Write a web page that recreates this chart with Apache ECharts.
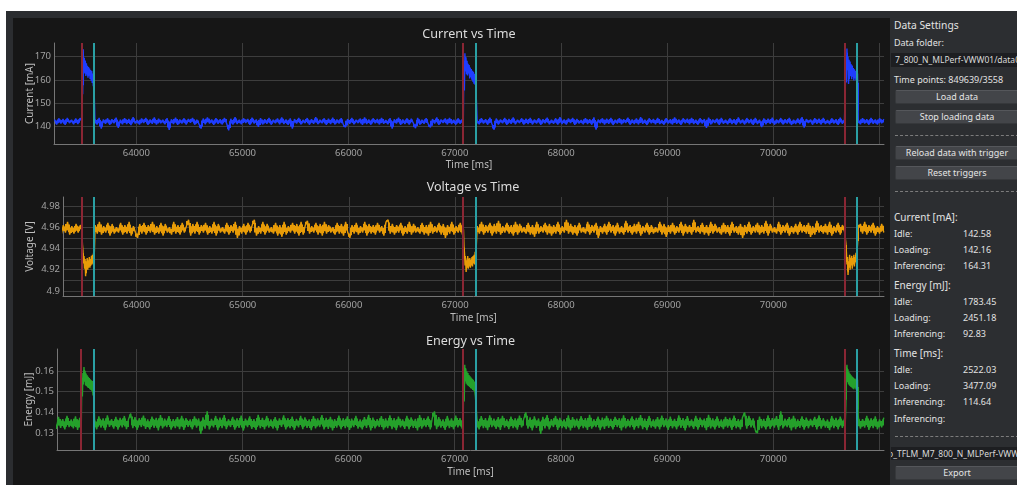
<!DOCTYPE html>
<html>
<head>
<meta charset="utf-8">
<script src="https://cdn.jsdelivr.net/npm/echarts@6/dist/echarts.min.js"></script>
<style>
  html, body { margin: 0; padding: 0; width: 1017px; height: 485px; overflow: hidden; background: #ffffff; font-family: "Noto Sans", sans-serif; }
  #frame { position: absolute; left: 6px; top: 11px; width: 1011px; height: 474px; background: #2b2d30; }
  #plotbg { position: absolute; left: 13px; top: 18px; width: 877px; height: 467px; background: #161616; }
  #chart { position: absolute; left: 0; top: 0; width: 890px; height: 485px; }
  #panel { position: absolute; left: 890px; top: 11px; width: 127px; height: 474px; background: #2c2e31; }
  .t { position: absolute; left: 894px; white-space: nowrap; color: #e2e2e2; font-size: 9px; line-height: 12px; }
  .h { font-size: 10px; line-height: 14px; }
  .big { font-size: 10.3px; line-height: 14px; }
  .v { left: 963px; }
  .btn { position: absolute; left: 895px; width: 124px; height: 14px; box-sizing: border-box; background: #434549; border: 1px solid #36383b; border-top-color: #55575b; border-radius: 2px; color: #e4e4e4; font-size: 9px; line-height: 12px; text-align: center; white-space: nowrap; }
  .inp { position: absolute; left: 891px; width: 130px; height: 14px; background: #1d1e21; color: #dadada; font-size: 8.5px; line-height: 14px; overflow: hidden; white-space: nowrap; }
  .inp span { position: relative; }
  .sep { position: absolute; left: 895px; width: 124px; height: 0; border-top: 1px dashed #7c7c7c; }
</style>
</head>
<body>
<div id="frame"></div>
<div id="plotbg"></div>
<div id="chart"></div>
<div id="panel"></div>

<div class="t big" style="top:18px">Data Settings</div>
<div class="t" style="top:37px">Data folder:</div>
<div class="inp" style="top:53px"><span style="left:4px">7_800_N_MLPerf-VWW01/data0.txt</span></div>
<div class="t" style="top:74px">Time points: 849639/3558</div>
<div class="btn" style="top:90px">Load data</div>
<div class="btn" style="top:110px">Stop loading data</div>
<div class="sep" style="top:135px"></div>
<div class="btn" style="top:146px">Reload data with trigger</div>
<div class="btn" style="top:166px">Reset triggers</div>
<div class="sep" style="top:191px"></div>

<div class="t h" style="top:210px">Current [mA]:</div>
<div class="t" style="top:228px">Idle:</div><div class="t v" style="top:228px">142.58</div>
<div class="t" style="top:244px">Loading:</div><div class="t v" style="top:244px">142.16</div>
<div class="t" style="top:260px">Inferencing:</div><div class="t v" style="top:260px">164.31</div>

<div class="t h" style="top:278px">Energy [mJ]:</div>
<div class="t" style="top:296px">Idle:</div><div class="t v" style="top:296px">1783.45</div>
<div class="t" style="top:312px">Loading:</div><div class="t v" style="top:312px">2451.18</div>
<div class="t" style="top:328px">Inferencing:</div><div class="t v" style="top:328px">92.83</div>

<div class="t h" style="top:346px">Time [ms]:</div>
<div class="t" style="top:364px">Idle:</div><div class="t v" style="top:364px">2522.03</div>
<div class="t" style="top:380px">Loading:</div><div class="t v" style="top:380px">3477.09</div>
<div class="t" style="top:396px">Inferencing:</div><div class="t v" style="top:396px">114.64</div>
<div class="t" style="top:413px">Inferencing:</div>
<div class="sep" style="top:436px"></div>
<div class="inp" style="top:447px;height:13px;line-height:13px"><span style="left:-3px">o_TFLM_M7_800_N_MLPerf-VWW01</span></div>
<div class="btn" style="top:466px">Export</div>

<script>
// ---- time base of the capture ----
const idleStart = [63230, 63610, 67210, 70800];   // first sample of each idle/loading stretch [ms]
const idleStep = 20;                              // sample spacing in idle stretches [ms]
const triggerStart = [63485, 67080, 70678];       // inference start triggers [ms]
const triggerEnd = [63600, 67197, 70791];         // inference end triggers [ms]
const burstStep = 5;                              // sample spacing inside inference bursts [ms]

// ---- axis ticks ----
const timeTicks = [64000, 65000, 66000, 67000, 68000, 69000, 70000, 71000];
const timeLabels = [64000, 65000, 66000, 67000, 68000, 69000, 70000];
const currentTicks = [140, 150, 160, 170];
const voltageTicks = [4.9, 4.92, 4.94, 4.96, 4.98];
const voltageGrid = [4.9, 4.91, 4.92, 4.93, 4.94, 4.95, 4.96, 4.97, 4.98];
const energyTicks = [0.13, 0.14, 0.15, 0.16];

// ---- current [mA] ----
const currentIdle = [
  [142.9, 140.8, 143.4, 141.2, 143.1, 140.6, 143.6, 141.4, 142.8, 140.9, 143.3, 141.0, 143.5],
  [143.2, 140.7, 143.6, 139.0, 142.9, 141.1, 143.4, 140.6, 143.0, 141.3,
   143.7, 139.3, 142.8, 140.9, 143.5, 141.0, 143.1, 140.5, 143.9, 141.2,
   142.7, 140.8, 143.3, 141.4, 143.6, 140.6, 142.9, 141.1, 143.8, 140.7,
   143.2, 141.3, 142.8, 140.9, 143.5, 138.4, 143.0, 141.0, 143.7, 140.6,
   142.9, 141.2, 143.4, 140.8, 143.1, 141.5, 143.6, 140.7, 142.8, 141.0,
   139.0, 143.3, 140.9, 143.8, 141.2, 142.9, 140.6, 143.5, 141.1, 143.0,
   140.8, 143.6, 141.3, 138.2, 143.2, 140.7, 143.9, 141.0, 142.8, 140.9,
   143.4, 141.4, 143.1, 140.6, 143.7, 141.2, 142.9, 139.8, 143.5, 140.8,
   143.0, 141.1, 143.6, 140.7, 142.8, 141.3, 143.3, 140.9, 143.8, 141.0,
   142.9, 140.6, 143.4, 139.0, 143.1, 141.2, 143.6, 140.8, 142.7, 141.4,
   143.5, 140.7, 143.0, 141.1, 143.9, 140.9, 142.8, 141.3, 143.4, 140.6,
   143.2, 141.0, 143.7, 140.8, 142.9, 141.2, 143.5, 140.7, 139.6, 143.1,
   141.1, 143.6, 140.9, 142.8, 141.4, 143.3, 140.6, 143.8, 141.0, 142.9,
   140.7, 143.4, 141.3, 143.1, 140.8, 143.6, 141.1, 142.7, 140.9, 143.5,
   139.0, 143.0, 141.2, 143.7, 140.6, 142.9, 141.0, 143.4, 140.8, 143.2,
   141.3, 139.2, 143.6, 140.7, 142.8, 141.1, 143.5, 140.9, 139.5, 143.1,
   141.2, 143.8, 140.6, 142.9, 141.4, 143.3, 140.8, 143.6, 141.0, 142.8,
   140.7, 143.4, 141.1, 143.0],
  [142.6, 140.9, 143.5, 141.2, 143.0, 140.7, 143.7, 141.0, 138.5, 143.3,
   140.8, 142.9, 141.3, 143.6, 140.6, 143.1, 141.1, 143.8, 140.9, 142.8,
   141.4, 143.4, 140.7, 143.2, 141.0, 143.6, 140.8, 142.9, 141.2, 143.5,
   140.6, 143.0, 141.3, 143.7, 140.9, 142.8, 141.1, 143.4, 140.7, 143.9,
   141.0, 142.9, 140.8, 143.3, 141.4, 143.6, 140.6, 143.1, 141.2, 142.7,
   140.9, 143.5, 141.0, 143.0, 140.7, 143.8, 138.5, 142.9, 141.3, 143.4,
   140.8, 143.2, 141.1, 143.6, 140.6, 142.8, 141.2, 143.5, 140.9, 143.0,
   141.4, 143.7, 140.7, 142.9, 141.0, 143.3, 140.8, 143.9, 141.1, 142.8,
   140.6, 143.4, 141.3, 143.1, 140.9, 143.6, 141.0, 142.7, 140.7, 143.5,
   141.2, 143.0, 140.8, 143.8, 141.1, 142.9, 140.6, 143.4, 141.3, 143.2,
   140.9, 143.6, 141.0, 142.8, 140.7, 143.5, 141.2, 143.1, 139.3, 143.7,
   140.8, 142.9, 141.4, 143.3, 140.6, 143.6, 141.1, 142.8, 140.9, 143.4,
   141.0, 143.0, 140.7, 143.8, 141.2, 142.9, 140.8, 143.5, 141.3, 143.1,
   140.6, 143.6, 141.0, 142.8, 139.6, 143.4, 140.9, 143.2, 141.1, 143.7,
   140.7, 142.9, 141.3, 143.5, 140.8, 143.0, 141.2, 143.6, 140.6, 142.8,
   141.0, 143.3, 140.9, 143.9, 139.4, 143.1, 141.4, 142.9, 140.7, 143.5,
   141.1, 143.2, 140.8, 143.6, 141.0, 142.7, 140.9, 143.4, 141.2, 143.0,
   140.6, 143.7, 141.1, 142.9],
  [142.8, 140.9, 143.5, 141.2, 143.0, 140.7, 143.6, 141.1, 142.9, 140.8, 143.4, 141.3, 143.1]
];
const currentBurst = [
  [142.3, 166.5, 153.8, 173.2, 164.0, 169.5, 162.8, 168.4, 161.7, 167.2, 162.3, 166.1,
   160.9, 165.6, 161.8, 164.9, 160.4, 164.3, 159.6, 163.8, 158.7, 162.4, 157.3, 161.0],
  [142.1, 165.2, 155.4, 171.5, 163.6, 169.8, 162.4, 168.3, 161.9, 167.0, 162.8, 166.4,
   160.6, 165.3, 161.2, 164.7, 160.1, 163.9, 159.2, 163.5, 158.4, 162.6, 157.9, 161.4],
  [142.4, 166.8, 158.9, 173.6, 164.2, 170.1, 158.2, 168.7, 162.5, 167.9, 161.6, 166.8,
   160.3, 166.2, 161.4, 165.1, 159.8, 164.6, 160.7, 163.9, 159.9, 163.2, 160.5, 162.8]
];

// ---- voltage [V] ----
const voltageIdle = [
  [4.961, 4.954, 4.964, 4.953, 4.962, 4.955, 4.965, 4.953, 4.961, 4.954, 4.963, 4.955, 4.962],
  [4.962, 4.954, 4.965, 4.953, 4.961, 4.955, 4.964, 4.952, 4.963, 4.954,
   4.960, 4.955, 4.964, 4.953, 4.962, 4.954, 4.965, 4.952, 4.961, 4.955,
   4.950, 4.963, 4.954, 4.964, 4.953, 4.962, 4.955, 4.965, 4.953, 4.961,
   4.954, 4.964, 4.952, 4.963, 4.955, 4.960, 4.953, 4.965, 4.954, 4.962,
   4.953, 4.964, 4.955, 4.961, 4.967, 4.952, 4.963, 4.954, 4.965, 4.953,
   4.962, 4.955, 4.964, 4.953, 4.961, 4.954, 4.965, 4.952, 4.963, 4.955,
   4.960, 4.954, 4.964, 4.953, 4.962, 4.955, 4.965, 4.950, 4.961, 4.954,
   4.963, 4.953, 4.964, 4.955, 4.962, 4.967, 4.952, 4.961, 4.954, 4.965,
   4.953, 4.963, 4.955, 4.960, 4.954, 4.964, 4.952, 4.962, 4.951, 4.965,
   4.953, 4.961, 4.955, 4.964, 4.954, 4.963, 4.952, 4.965, 4.953, 4.962,
   4.966, 4.954, 4.961, 4.955, 4.964, 4.953, 4.963, 4.952, 4.965, 4.954,
   4.962, 4.955, 4.960, 4.953, 4.964, 4.954, 4.963, 4.952, 4.965, 4.955,
   4.950, 4.962, 4.954, 4.964, 4.953, 4.961, 4.955, 4.965, 4.952, 4.963,
   4.954, 4.962, 4.953, 4.964, 4.955, 4.961, 4.952, 4.965, 4.967, 4.954,
   4.963, 4.953, 4.962, 4.955, 4.964, 4.952, 4.961, 4.954, 4.965, 4.953,
   4.963, 4.955, 4.960, 4.954, 4.964, 4.953, 4.962, 4.952, 4.965, 4.954,
   4.961, 4.955, 4.964, 4.953, 4.963, 4.950, 4.962, 4.954, 4.965, 4.953,
   4.961, 4.955, 4.964, 4.953],
  [4.961, 4.954, 4.965, 4.953, 4.962, 4.955, 4.964, 4.952, 4.963, 4.954,
   4.966, 4.953, 4.961, 4.955, 4.964, 4.954, 4.962, 4.952, 4.965, 4.953,
   4.963, 4.955, 4.960, 4.954, 4.964, 4.953, 4.962, 4.951, 4.965, 4.954,
   4.961, 4.955, 4.964, 4.953, 4.963, 4.952, 4.962, 4.954, 4.965, 4.953,
   4.961, 4.955, 4.967, 4.954, 4.963, 4.953, 4.962, 4.952, 4.964, 4.955,
   4.960, 4.954, 4.965, 4.953, 4.962, 4.955, 4.964, 4.950, 4.961, 4.954,
   4.963, 4.953, 4.965, 4.955, 4.962, 4.952, 4.964, 4.954, 4.961, 4.953,
   4.966, 4.955, 4.962, 4.953, 4.963, 4.954, 4.965, 4.952, 4.961, 4.955,
   4.964, 4.953, 4.962, 4.954, 4.960, 4.955, 4.965, 4.953, 4.963, 4.951,
   4.962, 4.954, 4.964, 4.953, 4.961, 4.955, 4.965, 4.952, 4.963, 4.954,
   4.962, 4.953, 4.967, 4.955, 4.961, 4.954, 4.964, 4.953, 4.962, 4.952,
   4.965, 4.954, 4.963, 4.955, 4.960, 4.953, 4.964, 4.954, 4.962, 4.952,
   4.965, 4.955, 4.961, 4.953, 4.963, 4.950, 4.962, 4.954, 4.965, 4.953,
   4.961, 4.955, 4.964, 4.953, 4.962, 4.954, 4.966, 4.952, 4.963, 4.955,
   4.960, 4.954, 4.965, 4.953, 4.962, 4.955, 4.964, 4.952, 4.961, 4.954,
   4.963, 4.953, 4.965, 4.955, 4.962, 4.954, 4.964, 4.951, 4.961, 4.953,
   4.966, 4.955, 4.962, 4.954, 4.963, 4.953, 4.965, 4.952, 4.961, 4.955,
   4.964, 4.953, 4.962, 4.956],
  [4.959, 4.963, 4.954, 4.965, 4.953, 4.962, 4.955, 4.964, 4.952, 4.961, 4.954, 4.963, 4.955]
];
const voltageBurst = [
  [4.957, 4.944, 4.938, 4.926, 4.933, 4.921, 4.930, 4.914, 4.928, 4.922, 4.931, 4.920,
   4.929, 4.923, 4.932, 4.922, 4.930, 4.924, 4.933, 4.925, 4.934, 4.926, 4.936, 4.929],
  [4.958, 4.942, 4.935, 4.924, 4.931, 4.918, 4.929, 4.922, 4.933, 4.921, 4.930, 4.923,
   4.931, 4.922, 4.929, 4.924, 4.932, 4.923, 4.933, 4.926, 4.934, 4.925, 4.937, 4.931],
  [4.957, 4.945, 4.936, 4.925, 4.932, 4.915, 4.928, 4.922, 4.934, 4.920, 4.930, 4.924,
   4.933, 4.921, 4.931, 4.925, 4.934, 4.923, 4.932, 4.927, 4.936, 4.926, 4.938, 4.944]
];

// ---- energy per sample [mJ] ----
const energyIdle = [
  [0.1372, 0.1321, 0.1379, 0.1326, 0.1368, 0.1318, 0.1384, 0.1329, 0.1366, 0.1323, 0.1381, 0.1316, 0.1374],
  [0.1366, 0.1319, 0.1381, 0.1327, 0.1371, 0.1315, 0.1386, 0.1331, 0.1368, 0.1322,
   0.1379, 0.1317, 0.1374, 0.1328, 0.1383, 0.1320, 0.1369, 0.1395, 0.1324, 0.1377,
   0.1316, 0.1372, 0.1330, 0.1385, 0.1321, 0.1367, 0.1318, 0.1380, 0.1326, 0.1374,
   0.1314, 0.1387, 0.1323, 0.1370, 0.1329, 0.1382, 0.1317, 0.1368, 0.1325, 0.1378,
   0.1320, 0.1384, 0.1316, 0.1373, 0.1331, 0.1366, 0.1319, 0.1381, 0.1327, 0.1371,
   0.1297, 0.1376, 0.1322, 0.1405, 0.1318, 0.1369, 0.1328, 0.1383, 0.1315, 0.1375,
   0.1324, 0.1387, 0.1320, 0.1367, 0.1330, 0.1379, 0.1317, 0.1372, 0.1326, 0.1385,
   0.1313, 0.1370, 0.1329, 0.1381, 0.1321, 0.1368, 0.1316, 0.1388, 0.1325, 0.1374,
   0.1319, 0.1383, 0.1327, 0.1366, 0.1322, 0.1378, 0.1314, 0.1371, 0.1331, 0.1386,
   0.1318, 0.1373, 0.1324, 0.1380, 0.1316, 0.1369, 0.1328, 0.1384, 0.1320, 0.1376,
   0.1326, 0.1367, 0.1315, 0.1382, 0.1323, 0.1371, 0.1330, 0.1387, 0.1318, 0.1374,
   0.1321, 0.1379, 0.1314, 0.1368, 0.1327, 0.1385, 0.1319, 0.1372, 0.1325, 0.1381,
   0.1316, 0.1370, 0.1329, 0.1383, 0.1322, 0.1366, 0.1318, 0.1377, 0.1326, 0.1389,
   0.1313, 0.1375, 0.1323, 0.1368, 0.1330, 0.1382, 0.1317, 0.1371, 0.1324, 0.1386,
   0.1320, 0.1373, 0.1315, 0.1380, 0.1328, 0.1367, 0.1321, 0.1384, 0.1319, 0.1376,
   0.1326, 0.1369, 0.1314, 0.1387, 0.1322, 0.1372, 0.1329, 0.1381, 0.1318, 0.1374,
   0.1405, 0.1320, 0.1378, 0.1327, 0.1366, 0.1316, 0.1383, 0.1324, 0.1371, 0.1319,
   0.1385, 0.1328, 0.1373, 0.1322],
  [0.1368, 0.1318, 0.1382, 0.1325, 0.1373, 0.1315, 0.1386, 0.1329, 0.1370, 0.1321,
   0.1378, 0.1316, 0.1384, 0.1327, 0.1367, 0.1320, 0.1380, 0.1324, 0.1372, 0.1317,
   0.1385, 0.1328, 0.1369, 0.1400, 0.1322, 0.1376, 0.1314, 0.1381, 0.1326, 0.1371,
   0.1297, 0.1379, 0.1323, 0.1387, 0.1318, 0.1368, 0.1330, 0.1383, 0.1316, 0.1374,
   0.1325, 0.1366, 0.1320, 0.1386, 0.1313, 0.1377, 0.1327, 0.1370, 0.1319, 0.1382,
   0.1324, 0.1373, 0.1316, 0.1388, 0.1322, 0.1367, 0.1329, 0.1380, 0.1315, 0.1375,
   0.1321, 0.1384, 0.1326, 0.1369, 0.1318, 0.1379, 0.1330, 0.1372, 0.1314, 0.1386,
   0.1323, 0.1368, 0.1328, 0.1381, 0.1317, 0.1374, 0.1325, 0.1387, 0.1320, 0.1370,
   0.1315, 0.1383, 0.1327, 0.1366, 0.1322, 0.1378, 0.1318, 0.1385, 0.1329, 0.1371,
   0.1316, 0.1380, 0.1324, 0.1369, 0.1319, 0.1386, 0.1326, 0.1373, 0.1313, 0.1382,
   0.1328, 0.1367, 0.1321, 0.1384, 0.1317, 0.1375, 0.1330, 0.1370, 0.1315, 0.1388,
   0.1323, 0.1372, 0.1318, 0.1381, 0.1326, 0.1366, 0.1320, 0.1379, 0.1327, 0.1374,
   0.1316, 0.1385, 0.1324, 0.1368, 0.1319, 0.1377, 0.1400, 0.1322, 0.1383, 0.1328,
   0.1371, 0.1315, 0.1300, 0.1380, 0.1325, 0.1369, 0.1318, 0.1386, 0.1321, 0.1373,
   0.1327, 0.1382, 0.1316, 0.1405, 0.1323, 0.1370, 0.1329, 0.1378, 0.1314, 0.1384,
   0.1320, 0.1367, 0.1326, 0.1381, 0.1317, 0.1375, 0.1324, 0.1369, 0.1330, 0.1379,
   0.1318, 0.1386, 0.1322, 0.1372, 0.1327, 0.1366, 0.1315, 0.1383, 0.1325, 0.1374,
   0.1319, 0.1380, 0.1326, 0.1370],
  [0.1379, 0.1322, 0.1368, 0.1327, 0.1384, 0.1316, 0.1372, 0.1325, 0.1381, 0.1319, 0.1366, 0.1328, 0.1375]
];
const energyBurst = [
  [0.1352, 0.1566, 0.1477, 0.1590, 0.1535, 0.1619, 0.1548, 0.1601, 0.1530, 0.1588, 0.1526, 0.1579,
   0.1521, 0.1572, 0.1518, 0.1566, 0.1512, 0.1560, 0.1509, 0.1555, 0.1503, 0.1552, 0.1482, 0.1546],
  [0.1348, 0.1571, 0.1453, 0.1630, 0.1549, 0.1612, 0.1538, 0.1597, 0.1531, 0.1590, 0.1528, 0.1581,
   0.1523, 0.1574, 0.1517, 0.1569, 0.1514, 0.1562, 0.1508, 0.1557, 0.1505, 0.1549, 0.1499, 0.1477],
  [0.1355, 0.1432, 0.1580, 0.1630, 0.1546, 0.1608, 0.1535, 0.1594, 0.1529, 0.1586, 0.1524, 0.1579,
   0.1520, 0.1573, 0.1516, 0.1568, 0.1512, 0.1563, 0.1519, 0.1560, 0.1511, 0.1566, 0.1514, 0.1558]
];

// Join idle stretches and inference bursts into one [time, value] trace.
function buildTrace(idleParts, burstParts) {
  const pts = [];
  for (let k = 0; k < idleParts.length; k++) {
    idleParts[k].forEach((v, i) => pts.push([idleStart[k] + i * idleStep, v]));
    if (k < burstParts.length) {
      burstParts[k].forEach((v, i) => pts.push([triggerStart[k] + i * burstStep, v]));
    }
  }
  return pts;
}
// Interval between two neighbouring samples: [t0, t1, low, high].
function toColumns(trace) {
  const cols = [];
  for (let i = 0; i + 1 < trace.length; i++) {
    const a = trace[i], b = trace[i + 1];
    cols.push([a[0], b[0], Math.min(a[1], b[1]), Math.max(a[1], b[1])]);
  }
  return cols;
}

const RED = '#8a2634';
const TEAL = '#2aa0a4';
const triggerData = triggerStart.map(t => [t, 0]).concat(triggerEnd.map(t => [t, 1]));

const FONT = 'Noto Sans';
const GRID_COLOR = '#3d3d3d';
const AXIS_COLOR = '#767676';
const LABEL_COLOR = '#a2a2a2';
const NAME_COLOR = '#bdbdbd';

const grids = [
  { left: 54, top: 43, width: 830, height: 101 },
  { left: 63, top: 197, width: 821, height: 99 },
  { left: 57, top: 349, width: 827, height: 101 }
];
const xRanges = [[63225, 71042], [63307, 71042], [63256, 71042]];
const xNameGap = [16, 17.5, 17];

function xAxisFor(i) {
  return {
    type: 'value', gridIndex: i, min: xRanges[i][0], max: xRanges[i][1],
    name: 'Time [ms]', nameLocation: 'middle', nameGap: xNameGap[i], nameMoveOverlap: false,
    nameTextStyle: { color: NAME_COLOR, fontSize: 10, fontFamily: FONT },
    axisLine: { show: true, lineStyle: { color: AXIS_COLOR, width: 1 } },
    axisTick: { show: false, customValues: timeTicks },
    axisLabel: { customValues: timeLabels, color: LABEL_COLOR, fontSize: 9.5, fontFamily: FONT, margin: 4, formatter: v => String(v) },
    splitLine: { show: true, lineStyle: { color: GRID_COLOR, width: 1 } }
  };
}
function yAxisFor(i, name, min, max, ticks, gridVals, gap) {
  return {
    type: 'value', gridIndex: i, min: min, max: max,
    name: name, nameLocation: 'middle', nameGap: gap, nameRotate: 90, nameMoveOverlap: false,
    nameTextStyle: { color: NAME_COLOR, fontSize: 10, fontFamily: FONT },
    axisLine: { show: true, lineStyle: { color: AXIS_COLOR, width: 1 } },
    axisTick: { show: false, customValues: gridVals },
    axisLabel: { customValues: ticks, color: LABEL_COLOR, fontSize: 9.5, fontFamily: FONT, margin: 3, formatter: v => String(v) },
    splitLine: { show: true, lineStyle: { color: GRID_COLOR, width: 1 } }
  };
}
// A dense trace: a solid core between neighbouring samples plus the thin
// polyline through every sample, which gives the ragged edge of the band.
function traceSeries(i, trace, color) {
  const core = {
    type: 'custom', xAxisIndex: i, yAxisIndex: i, z: 2,
    data: toColumns(trace),
    encode: { x: [0, 1], y: [2, 3] },
    renderItem: function (params, api) {
      const lt = api.coord([api.value(0), api.value(3)]);
      const rb = api.coord([api.value(1), api.value(2)]);
      const cs = params.coordSys;
      const x0 = Math.round(lt[0]);
      const x1 = Math.max(x0 + 1, Math.round(rb[0]));
      const span = rb[1] - lt[1];
      const y0 = lt[1] + span * 0.2;
      const h = Math.max(0.5, span * 0.6);
      const shape = echarts.graphic.clipRectByRect(
        { x: x0, y: y0, width: x1 - x0, height: h },
        { x: cs.x, y: cs.y, width: cs.width, height: cs.height }
      );
      if (!shape) return null;
      return { type: 'rect', shape: shape, style: { fill: color } };
    }
  };
  const line = {
    type: 'line', xAxisIndex: i, yAxisIndex: i, z: 2,
    data: trace, showSymbol: false, symbol: 'none', sampling: 'none', clip: true,
    lineStyle: { color: color, width: 1.4, join: 'bevel' }
  };
  return [core, line];
}
function triggerSeries(i) {
  return {
    type: 'custom', xAxisIndex: i, yAxisIndex: i, z: 3,
    data: triggerData,
    encode: { x: 0 },
    renderItem: function (params, api) {
      const cs = params.coordSys;
      const x = Math.round(api.coord([api.value(0), 0])[0]);
      return {
        type: 'line',
        shape: { x1: x, y1: cs.y, x2: x, y2: cs.y + cs.height },
        style: { stroke: api.value(1) ? TEAL : RED, lineWidth: 2 }
      };
    }
  };
}

const titleStyle = { color: '#dcdcdc', fontSize: 12.6, fontWeight: 'normal', fontFamily: FONT };

const chart = echarts.init(document.getElementById('chart'), null, { renderer: 'canvas' });
chart.setOption({
  animation: false,
  backgroundColor: 'transparent',
  textStyle: { fontFamily: FONT },
  title: [
    { text: 'Current vs Time', left: 469, top: 27.5, textAlign: 'center', padding: 0, textStyle: titleStyle },
    { text: 'Voltage vs Time', left: 473, top: 181, textAlign: 'center', padding: 0, textStyle: titleStyle },
    { text: 'Energy vs Time', left: 470.5, top: 334.5, textAlign: 'center', padding: 0, textStyle: titleStyle }
  ],
  grid: grids,
  xAxis: [xAxisFor(0), xAxisFor(1), xAxisFor(2)],
  yAxis: [
    yAxisFor(0, 'Current [mA]', 132.34, 175.93, currentTicks, currentTicks, 19),
    yAxisFor(1, 'Voltage [V]', 4.8953, 4.9884, voltageTicks, voltageGrid, 28),
    yAxisFor(2, 'Energy [mJ]', 0.1219, 0.1706, energyTicks, energyTicks, 22.5)
  ],
  series: [].concat(
    traceSeries(0, buildTrace(currentIdle, currentBurst), '#1f3dff'),
    traceSeries(1, buildTrace(voltageIdle, voltageBurst), '#e89c08'),
    traceSeries(2, buildTrace(energyIdle, energyBurst), '#25a12b'),
    [triggerSeries(0), triggerSeries(1), triggerSeries(2)]
  )
});
</script>
</body>
</html>
